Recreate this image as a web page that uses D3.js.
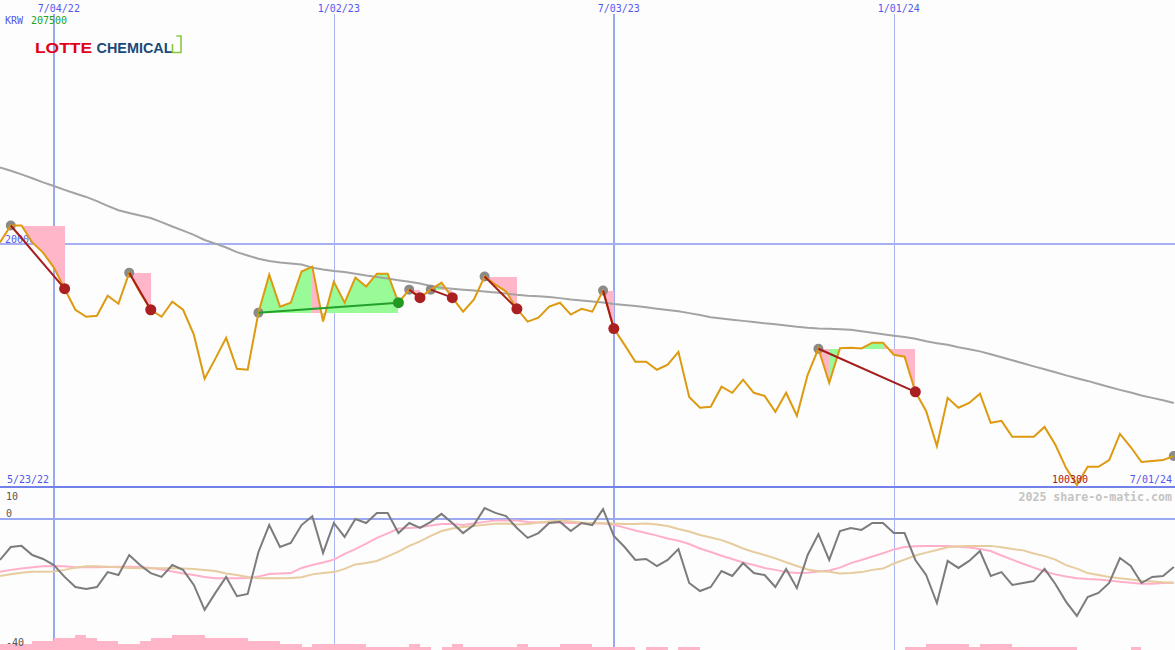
<!DOCTYPE html>
<html><head><meta charset="utf-8">
<script src="https://cdn.jsdelivr.net/npm/d3@7"></script>
<style>body{margin:0;background:#fdfdfd;} svg{display:block;}</style>
</head><body><svg id="c" width="1175" height="650"></svg>
<script>
// ---------- data ----------
const startDate = "2022-05-30";        // first weekly point
const firstLabel = "5/23/22";
const currency = "KRW";
const price = [200500,207500,207500,200500,196300,190100,181400,172700,169800,170200,
178500,175200,188000,179800,172700,169800,176000,172700,162400,144200,
152500,161100,148300,147900,171500,187200,174000,175600,188500,190500,
167800,184300,175600,186000,182300,187600,187600,175600,181000,177700,
181000,183900,177700,171900,176900,186400,183100,180200,173100,167800,
169400,174000,175600,170700,173100,171900,180600,164900,158200,151200,
151200,147900,150000,155300,136700,132200,132600,140900,138400,143800,
138400,137100,130500,138400,128900,145800,156600,142500,156800,157000,
156700,159100,159100,154100,153300,138800,130900,116400,136300,132200,
134200,138000,126000,126800,120200,120200,120200,124300,116900,107300,
100300,107800,107800,110600,121400,116000,109800,110200,110600,112300];
const movingAvg = [231500,230100,228600,227000,225300,223800,222200,220700,219300,217600,
215600,213800,212700,211600,210600,208900,207100,205400,203600,201500,
200000,198400,196500,195100,193800,192800,192200,191800,191400,190100,
189300,188700,188300,187600,186800,186200,185600,184900,184300,183500,
182500,181800,181400,181000,180600,180200,179800,179400,178900,178500,
178300,178000,177500,176900,176500,176100,175700,175100,174700,174200,
173700,173100,172600,172100,171300,170500,169600,169100,168600,168100,
167600,167100,166700,166200,165700,165300,165000,164800,164600,164400,
163800,163200,162600,162000,161400,160700,159700,158900,158200,157200,
156400,155500,154300,153100,151800,150600,149300,148100,146900,145600,
144400,143300,142000,140800,139600,138500,137300,136300,135300,134200];
const oscMain = [-12.8,-8.75,-8.4,-11.25,-12.5,-14.4,-18.1,-21.25,-21.9,-21.25,
-16.6,-17.5,-11.25,-14.4,-16.9,-18.1,-14.4,-15.9,-20.6,-28.4,
-23.1,-18.1,-24.1,-23.4,-10.3,-1.9,-8.75,-7.5,-1.9,0.9,
-10.6,-1.25,-5.6,0,-1.25,1.9,1.9,-4.4,-1.25,-2.8,
-0.9,1.6,-1.25,-4.4,-1.9,3.4,1.9,0.9,-2.8,-5.9,
-4.4,-1.25,-0.9,-3.75,-1.25,-1.9,3.1,-5.3,-8.75,-12.8,
-12.5,-14.7,-12.8,-9.4,-20,-22.5,-21.25,-16.25,-17.8,-13.75,
-16.9,-17.5,-21.25,-15.6,-21.6,-11.25,-4.7,-12.8,-3.75,-2.8,
-3.4,-1.25,-1.25,-4.4,-4.4,-12.8,-17.5,-26.25,-13.1,-15.3,
-13.1,-10,-17.8,-16.6,-20.6,-20,-19.4,-15.6,-20.3,-25.9,
-30.3,-24.4,-23.1,-20,-12.2,-14.7,-20,-18.1,-17.8,-15];
const oscPink = [-16.5,-15.9,-15.5,-15.1,-14.8,-14.7,-14.8,-15.1,-15.1,-15.1,
-15.0,-14.9,-14.9,-15.0,-15.3,-15.8,-16.4,-17.0,-17.5,-18.1,
-18.5,-18.5,-18.5,-18.4,-18.0,-17.2,-17.0,-16.9,-15.3,-14.4,
-13.6,-12.7,-10.9,-9.4,-7.7,-5.9,-4.5,-3.0,-2.8,-2.6,
-2.0,-1.6,-1.6,-1.9,-1.4,-0.9,-0.5,-0.5,-0.5,-0.9,
-1.1,-1.1,-1.2,-1.25,-1.3,-1.3,-1.4,-1.8,-2.7,-3.6,
-4.4,-5.2,-6.1,-6.8,-7.8,-9.2,-10.3,-11.5,-12.5,-13.6,
-14.4,-15.3,-15.9,-16.6,-16.9,-16.8,-16.4,-16.1,-15.2,-13.8,
-12.8,-11.7,-10.7,-9.5,-8.75,-8.5,-8.4,-8.4,-8.4,-8.7,
-8.9,-9.4,-10.0,-11.4,-12.7,-14.0,-15.2,-16.4,-17.3,-18.0,
-18.5,-18.75,-18.9,-19.2,-19.6,-19.9,-20.2,-20.2,-20.0,-19.9];
const oscTan = [-17.8,-17.3,-16.8,-16.5,-16.5,-16.4,-15.9,-15.2,-14.8,-14.75,
-14.9,-15.1,-15.3,-15.4,-15.4,-15.4,-15.4,-15.5,-15.6,-15.9,
-16.25,-17.0,-17.5,-18.1,-18.5,-18.5,-18.5,-18.4,-18.2,-17.3,
-16.9,-16.6,-15.6,-14.2,-13.75,-13.1,-11.7,-10.2,-8.4,-7.0,
-5.3,-3.75,-3.0,-2.5,-2.2,-1.8,-1.5,-1.4,-1.7,-1.6,
-1.1,-0.8,-0.5,-0.8,-1.1,-1.3,-1.3,-1.4,-1.6,-1.6,
-1.4,-1.7,-2.2,-3.1,-3.9,-5.0,-5.8,-6.6,-7.8,-9.2,
-10.3,-11.25,-12.3,-13.5,-14.7,-15.8,-16.3,-16.5,-17.0,-16.9,
-16.6,-15.9,-15.5,-13.9,-12.7,-11.4,-10.5,-9.7,-8.8,-8.5,
-8.4,-8.4,-8.4,-8.8,-9.4,-9.8,-10.8,-11.6,-12.7,-14.4,
-15.5,-16.9,-17.5,-18.1,-18.5,-18.9,-19.3,-19.5,-19.8,-19.9];
const volLevel = [2,2,2,3,3,4,4,5,4,3, 3,2,2,3,4,4,5,5,5,4, 4,4,4,3,3,3,2,2,1,2,
2,2,2,2,1,1,1,1,2,1, 0,1,2,1,1,1,1,1,2,1, 1,1,2,2,2,1,1,1,1,0,
1,1,0,1,1,0,0,0,0,0, 0,0,0,0,0,0,0,0,0,0, 0,0,0,0,1,1,2,2,2,2,
1,2,2,2,1,1,1,1,1,1, 0,0,0,0,0,1,0,0,0,0];
const tradeStart = [1,12,24,38,40,45,56,76,109];
const tradeEnd   = [6,14,37,39,42,48,57,85,null];
const gridDates = ["2022-07-04","2023-01-02","2023-07-03","2024-01-01"];
const majorGrid = [true,false,true,false];
const priceTicks = [200000];
const oscTicks = [10,0,-40];

// ---------- setup ----------
const svg = d3.select("#c");
const parse = d3.utcParse("%Y-%m-%d");
const t0 = parse(startDate);
const dates = price.map((_, i) => d3.utcDay.offset(t0, 7 * i));
const fmt = d3.utcFormat("%-m/%d/%y");
const n = price.length;

const x = d3.scaleUtc().domain([dates[0], dates[n - 1]]).range([0, 1173.8]);
const yMin = d3.min(price), yMax = d3.max(price);
const y = d3.scaleLinear().domain([yMin, yMax]).range([485, 225.5]);
const yo = d3.scaleLinear().domain([10, -40]).range([487, 647]);

const mono = "'DejaVu Sans Mono', monospace";
const blue = "#5555ee";
const PINK = "#ffb6c8", GREEN = "#98fb98";

svg.append("rect").attr("width", 1175).attr("height", 650).attr("fill", "#fdfdfd");

// gridlines
const grid = svg.append("g");
gridDates.forEach((d, k) => {
  const xx = Math.round(x(parse(d)));
  grid.append("line").attr("x1", xx).attr("x2", xx).attr("y1", 14).attr("y2", 650)
    .attr("stroke", majorGrid[k] ? "#99a8f2" : "#aab4f0")
    .attr("stroke-width", majorGrid[k] ? 2 : 1)
    .attr("shape-rendering", "crispEdges");
});
priceTicks.forEach(v => {
  grid.append("line").attr("x1", 0).attr("x2", 1175).attr("y1", Math.round(y(v))).attr("y2", Math.round(y(v)))
    .attr("stroke", "#a4b0f2").attr("stroke-width", 2).attr("shape-rendering", "crispEdges");
  svg.append("text").attr("x", 5).attr("y", Math.round(y(v)) - 1).text(v)
    .attr("font-family", mono).attr("font-size", 10).attr("fill", blue);
});
grid.append("line").attr("x1", 0).attr("x2", 1175).attr("y1", 487).attr("y2", 487)
  .attr("stroke", "#7381ea").attr("stroke-width", 2).attr("shape-rendering", "crispEdges");
grid.append("line").attr("x1", 0).attr("x2", 1175).attr("y1", yo(0)).attr("y2", yo(0))
  .attr("stroke", "#9aa9f2").attr("stroke-width", 2).attr("shape-rendering", "crispEdges");

// top axis labels
const topAxis = d3.axisTop(x).tickValues(gridDates.map(parse)).tickFormat(fmt).tickSize(0).tickPadding(0);
const ta = svg.append("g").attr("transform", "translate(4.5,12)").call(topAxis);
ta.select(".domain").remove();
ta.selectAll("text").attr("font-family", mono).attr("font-size", 10).attr("fill", blue).attr("dy", 0);

// trade fills
const fills = svg.append("g");
tradeStart.forEach((s, k) => {
  const e = tradeEnd[k];
  if (e == null) return;
  const lvl = price[s];
  for (let i = s; i < e; i++) {
    const up = price[i + 1] >= lvl;
    const area = d3.area().x(j => x(dates[j])).y0(y(lvl)).y1(j => y(price[j]));
    fills.append("path").datum([i, i + 1]).attr("d", area)
      .attr("fill", up ? GREEN : PINK).attr("shape-rendering", "crispEdges");
  }
});

// moving average
svg.append("path").datum(movingAvg)
  .attr("d", d3.line().x((d, i) => x(dates[i])).y(d => y(d)))
  .attr("fill", "none").attr("stroke", "#a3a3a3").attr("stroke-width", 2);

// start dots
svg.append("g").selectAll("circle").data(tradeStart).join("circle")
  .attr("cx", i => x(dates[i])).attr("cy", i => y(price[i])).attr("r", 5).attr("fill", "#8a8a8a");

// price line
svg.append("path").datum(price)
  .attr("d", d3.line().x((d, i) => x(dates[i])).y(d => y(d)))
  .attr("fill", "none").attr("stroke", "#dd9a10").attr("stroke-width", 2).attr("stroke-linejoin", "miter");

// trade lines & end dots
const tl = svg.append("g");
tradeStart.forEach((s, k) => {
  const e = tradeEnd[k];
  if (e == null) return;
  const win = price[e] >= price[s];
  tl.append("path").datum([s, e]).attr("d", d3.line().x(j => x(dates[j])).y(j => y(price[j])))
    .attr("stroke", win ? "#22a02a" : "#a51c1c").attr("stroke-width", 2).attr("fill", "none");
});
tradeStart.forEach((s, k) => {
  const e = tradeEnd[k];
  if (e == null) return;
  const win = price[e] >= price[s];
  tl.append("circle").attr("cx", x(dates[e])).attr("cy", y(price[e])).attr("r", 5.5)
    .attr("fill", win ? "#229922" : "#aa2020");
});

// oscillator panel
svg.append("g").selectAll("rect").data(volLevel).join("rect")
  .attr("x", (d, i) => x(dates[i])).attr("width", (d, i) => x(d3.utcDay.offset(dates[i], 7)) - x(dates[i]))
  .attr("y", d => 650 - d * 3).attr("height", d => d * 3)
  .attr("fill", PINK).attr("shape-rendering", "crispEdges");
const oline = d3.line().x((d, i) => x(dates[i])).y(d => yo(d));
svg.append("path").datum(oscPink).attr("d", oline).attr("fill", "none").attr("stroke", "#ffb0c8").attr("stroke-width", 2);
svg.append("path").datum(oscTan).attr("d", oline).attr("fill", "none").attr("stroke", "#e6cc9e").attr("stroke-width", 2);
svg.append("path").datum(oscMain).attr("d", oline).attr("fill", "none").attr("stroke", "#7c7c7c").attr("stroke-width", 2);

const oscLabelY = {"10": 500, "0": 517, "-40": 646};
oscTicks.forEach(v => {
  svg.append("text").attr("x", 6).attr("y", oscLabelY[String(v)]).text(v)
    .attr("font-family", mono).attr("font-size", 10).attr("fill", "#555");
});

// texts
svg.append("text").attr("x", 5).attr("y", 24).text(currency)
  .attr("font-family", mono).attr("font-size", 10).attr("fill", blue);
svg.append("text").attr("x", 31).attr("y", 24).text(yMax)
  .attr("font-family", mono).attr("font-size", 10).attr("fill", "#22a022");
svg.append("text").attr("x", 7).attr("y", 483).text(firstLabel)
  .attr("font-family", mono).attr("font-size", 10).attr("fill", blue);
svg.append("text").attr("x", 1172).attr("y", 483).attr("text-anchor", "end").text(fmt(dates[n - 1]))
  .attr("font-family", mono).attr("font-size", 10).attr("fill", blue);
const iMin = d3.minIndex(price);
svg.append("text").attr("x", x(dates[iMin]) - 25).attr("y", 483).text(yMin)
  .attr("font-family", mono).attr("font-size", 10).attr("fill", "#a02020");
svg.append("text").attr("x", 1172).attr("y", 501).attr("text-anchor", "end").text("2025 share-o-matic.com")
  .attr("font-family", mono).attr("font-size", 11.6).attr("font-weight", "bold").attr("fill", "#c4c4c4");

// logo
const logo = svg.append("g");
logo.append("text").attr("x", 35).attr("y", 52.5).text("LOTTE")
  .attr("font-family", "'Liberation Sans', Arial, sans-serif").attr("font-weight", "bold")
  .attr("font-size", 15).attr("fill", "#e3001b").attr("textLength", 57).attr("lengthAdjust", "spacingAndGlyphs");
logo.append("text").attr("x", 96.5).attr("y", 52.5).text("CHEMICAL")
  .attr("font-family", "'Liberation Sans', Arial, sans-serif").attr("font-weight", "bold")
  .attr("font-size", 15).attr("fill", "#1b4a78").attr("textLength", 76).attr("lengthAdjust", "spacingAndGlyphs");
logo.append("path").attr("d", "M176.5,36 L181,36 L181,52.5 L172.5,52.5 L172.5,44")
  .attr("fill", "none").attr("stroke", "#8cc63f").attr("stroke-width", 1.6);
</script></body></html>
